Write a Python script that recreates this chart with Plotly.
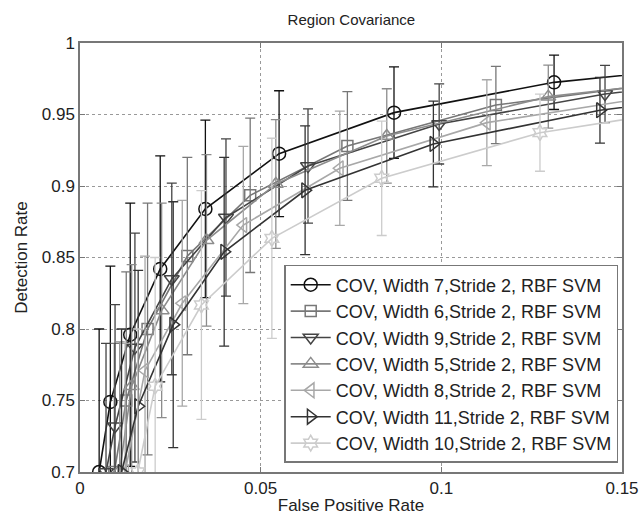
import plotly.graph_objects as go

# ---- data ----
names = [
    "COV, Width 7,Stride 2, RBF SVM",
    "COV, Width 6,Stride 2, RBF SVM",
    "COV, Width 9,Stride 2, RBF SVM",
    "COV, Width 5,Stride 2, RBF SVM",
    "COV, Width 8,Stride 2, RBF SVM",
    "COV, Width 11,Stride 2, RBF SVM",
    "COV, Width 10,Stride 2, RBF SVM",
]

w7_x = [0.0053, 0.0084, 0.0139, 0.0222, 0.0347, 0.0551, 0.0869, 0.1312, 0.18]
w7_y = [0.700, 0.749, 0.796, 0.842, 0.884, 0.9226, 0.9513, 0.9725, 0.985]
w7_e = [0.10, 0.095, 0.092, 0.079, 0.062, 0.044, 0.032, 0.019, 0.012]

w6_x = [0.0095, 0.0128, 0.0187, 0.0297, 0.0471, 0.074, 0.1151, 0.17]
w6_y = [0.700, 0.750, 0.800, 0.851, 0.8935, 0.928, 0.9566, 0.975]
w6_e = [0.09, 0.09, 0.088, 0.069, 0.054, 0.038, 0.027, 0.018]

w9_x = [0.0072, 0.0097, 0.0152, 0.0254, 0.0404, 0.0631, 0.0994, 0.1453, 0.18]
w9_y = [0.700, 0.732, 0.787, 0.835, 0.878, 0.914, 0.9434, 0.9643, 0.975]
w9_e = [0.09, 0.085, 0.08, 0.067, 0.055, 0.040, 0.028, 0.020, 0.012]

w5_x = [0.0110, 0.0143, 0.0226, 0.0350, 0.0542, 0.0849, 0.1296, 0.18]
w5_y = [0.701, 0.760, 0.813, 0.862, 0.9014, 0.935, 0.9625, 0.977]
w5_e = [0.09, 0.085, 0.075, 0.060, 0.045, 0.033, 0.022, 0.014]

w8_x = [0.0125, 0.0180, 0.0283, 0.0452, 0.0719, 0.1126, 0.16]
w8_y = [0.700, 0.771, 0.818, 0.8727, 0.9124, 0.9443, 0.963]
w8_e = [0.09, 0.08, 0.072, 0.055, 0.040, 0.030, 0.020]

w11_x = [0.0115, 0.0161, 0.0258, 0.0399, 0.0623, 0.0978, 0.1439, 0.18]
w11_y = [0.700, 0.746, 0.803, 0.854, 0.897, 0.9294, 0.953, 0.964]
w11_e = [0.10, 0.095, 0.086, 0.066, 0.045, 0.030, 0.023, 0.015]

w10_x = [0.0160, 0.0208, 0.0336, 0.0531, 0.0835, 0.1273, 0.18]
w10_y = [0.700, 0.760, 0.8168, 0.8634, 0.9054, 0.9373, 0.958]
w10_e = [0.10, 0.09, 0.08, 0.070, 0.040, 0.027, 0.020]

x_ticks = [0, 0.05, 0.1, 0.15]
x_ticktext = ["0", "0.05", "0.1", "0.15"]
y_ticks = [0.7, 0.75, 0.8, 0.85, 0.9, 0.95, 1.0]
y_ticktext = ["0.7", "0.75", "0.8", "0.85", "0.9", "0.95", "1"]

series = [
    (w7_x, w7_y, w7_e, "circle-open", "#111111", 13),
    (w6_x, w6_y, w6_e, "square-open", "#777777", 11),
    (w9_x, w9_y, w9_e, "triangle-down-open", "#444444", 13),
    (w5_x, w5_y, w5_e, "triangle-up-open", "#8c8c8c", 13),
    (w8_x, w8_y, w8_e, "triangle-left-open", "#a8a8a8", 13),
    (w11_x, w11_y, w11_e, "triangle-right-open", "#333333", 13),
    (w10_x, w10_y, w10_e, "hexagram-open", "#cccccc", 12),
]

fig = go.Figure()
for name, (xs, ys, es, sym, col, sz) in zip(names, series):
    fig.add_trace(go.Scatter(
        x=xs, y=ys, name=name, mode="lines+markers",
        line=dict(color=col, width=1.6),
        marker=dict(symbol=sym, size=sz, color=col, line=dict(width=1.5, color=col)),
        error_y=dict(type="data", array=es, visible=True, color=col,
                     thickness=1.3, width=5),
    ))

font_family = "Liberation Sans, Arial, sans-serif"
fig.update_layout(
    width=643, height=515,
    margin=dict(l=80, r=21, t=43, b=43, autoexpand=False),
    paper_bgcolor="white", plot_bgcolor="white",
    font=dict(family=font_family, size=17, color="#222222"),
    title=dict(text="Region Covariance", x=0.5465, xanchor="center",
               y=0.962, yanchor="middle", font=dict(size=15, color="#222222")),
    xaxis=dict(range=[0, 0.15], tickvals=x_ticks, ticktext=x_ticktext,
               showgrid=True, gridcolor="#999999", griddash="dot", gridwidth=1,
               showline=True, linecolor="#777777", linewidth=1.5, mirror="ticks",
               ticks="inside", ticklen=5, tickcolor="#777777", zeroline=False,
               automargin=False,
               title=dict(text="False Positive Rate", font=dict(size=17), standoff=3),
               tickfont=dict(size=17)),
    yaxis=dict(range=[0.7, 1.0], tickvals=y_ticks, ticktext=y_ticktext,
               showgrid=True, gridcolor="#999999", griddash="dot", gridwidth=1,
               showline=True, linecolor="#777777", linewidth=1.5, mirror="ticks",
               ticks="inside", ticklen=5, tickcolor="#777777", zeroline=False,
               automargin=False,
               title=dict(text="Detection Rate", font=dict(size=17), standoff=10),
               tickfont=dict(size=17)),
    legend=dict(x=0.993, y=0.021, xanchor="right", yanchor="bottom",
                bgcolor="white", bordercolor="#777777", borderwidth=1.5,
                font=dict(size=18, color="#222222"), tracegroupgap=0,
                itemwidth=40),
    showlegend=True,
)

fig.write_html("out.html", config={"displayModeBar": False},
               post_script="document.body.style.margin='0';document.body.style.padding='0';")
